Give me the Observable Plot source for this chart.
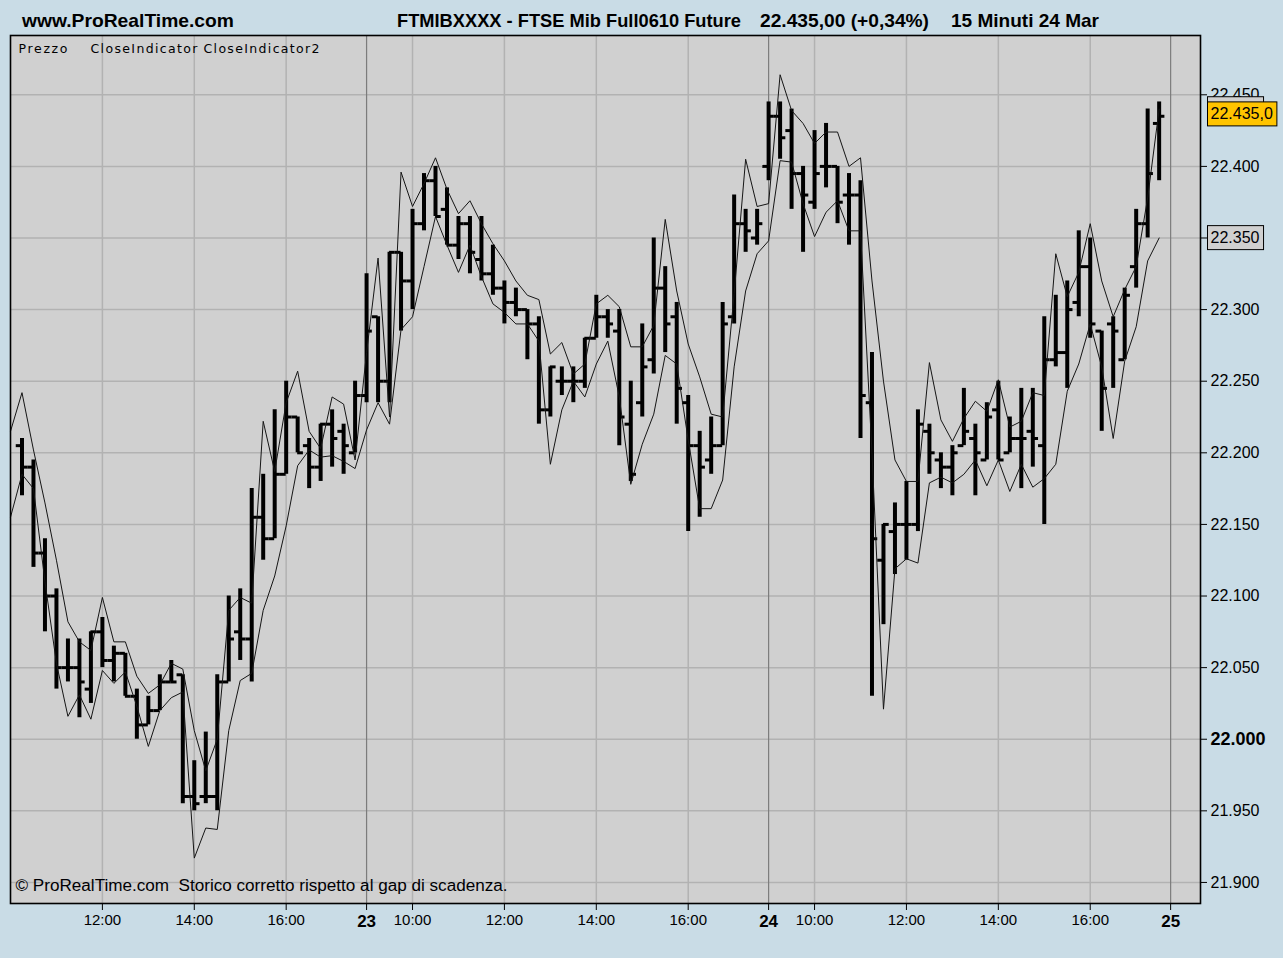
<!DOCTYPE html>
<html><head><meta charset="utf-8">
<script src="https://cdn.jsdelivr.net/npm/d3@7"></script>
<script src="https://cdn.jsdelivr.net/npm/@observablehq/plot@0.6"></script>
<style>
html,body{margin:0;padding:0;background:#c9dce6;}
body{width:1283px;height:958px;overflow:hidden;font-family:"Liberation Sans",Arial,sans-serif;}
#hdr{display:block;}
#chart svg{display:block;}
</style></head><body>
<svg id="hdr" width="1283" height="34" xmlns="http://www.w3.org/2000/svg" font-family="Liberation Sans, Arial, sans-serif" font-weight="bold" font-size="19">
  <text x="22" y="27" textLength="212" lengthAdjust="spacingAndGlyphs">www.ProRealTime.com</text>
  <text x="397" y="27" textLength="344" lengthAdjust="spacingAndGlyphs">FTMIBXXXX - FTSE Mib Full0610 Future</text>
  <text x="760" y="27" textLength="169" lengthAdjust="spacingAndGlyphs">22.435,00 (+0,34%)</text>
  <text x="951" y="27" textLength="148" lengthAdjust="spacingAndGlyphs">15 Minuti  24 Mar</text>
</svg>
<div id="chart"></div>
<script>
// ---- data: 15-minute bars, index counted from 22 Mar 09:00 (35 bars per session) ----
const firstBarIndex = 5; // 22 Mar 10:15
const openP  = [22205,22190,22130,22100,22050,22050,22035,22075,22055,22060,22030,22010,22020,22040,22045,21960,21960,21960,22040,22075,22070,22155,22140,22185,22225,22205,22190,22220,22215,22200,22240,22295,22250,22340,22320,22360,22390,22370,22345,22360,22335,22325,22315,22305,22300,22290,22230,22250,22250,22250,22280,22295,22285,22220,22235,22265,22315,22295,22235,22205,22195,22205,22295,22360,22350,22400,22435,22425,22395,22375,22400,22400,22380,22380,22235,22125,22145,22150,22150,22215,22195,22190,22205,22210,22195,22230,22200,22210,22215,22205,22265,22270,22305,22330,22285,22290,22265,22330,22360,22430];
const highP  = [22210,22195,22140,22105,22070,22070,22075,22085,22065,22060,22035,22030,22045,22055,22045,21985,22005,22045,22100,22105,22175,22185,22230,22250,22225,22210,22220,22230,22220,22250,22325,22295,22340,22340,22370,22395,22400,22385,22365,22365,22365,22345,22320,22315,22300,22295,22260,22260,22260,22280,22310,22300,22300,22250,22290,22350,22330,22305,22240,22215,22225,22305,22380,22370,22370,22445,22445,22440,22400,22425,22430,22400,22395,22390,22270,22150,22165,22180,22230,22220,22200,22205,22245,22220,22235,22250,22225,22245,22245,22295,22310,22320,22355,22350,22285,22295,22315,22370,22440,22445];
const lowP   = [22170,22120,22075,22035,22040,22015,22025,22050,22040,22030,22000,22010,22020,22040,21955,21950,21955,21950,22040,22055,22040,22125,22140,22185,22200,22175,22180,22190,22185,22200,22235,22235,22235,22285,22300,22355,22365,22345,22335,22325,22320,22310,22290,22295,22265,22220,22225,22240,22235,22245,22280,22280,22205,22180,22225,22255,22270,22220,22145,22155,22185,22205,22290,22340,22345,22390,22405,22370,22340,22370,22385,22360,22345,22210,22030,22080,22115,22125,22145,22185,22175,22170,22205,22170,22195,22195,22200,22175,22190,22150,22260,22245,22295,22280,22215,22245,22265,22315,22350,22390];
const closeP = [22190,22130,22100,22050,22050,22040,22075,22055,22060,22030,22010,22020,22040,22040,21960,21955,21960,22040,22070,22070,22155,22140,22185,22225,22200,22190,22220,22210,22205,22240,22285,22250,22340,22320,22360,22390,22365,22345,22360,22340,22325,22315,22305,22300,22290,22230,22260,22250,22250,22280,22295,22290,22225,22185,22260,22315,22290,22245,22205,22190,22205,22290,22360,22355,22360,22435,22420,22395,22380,22395,22400,22375,22380,22240,22140,22150,22150,22150,22220,22200,22190,22200,22215,22200,22225,22195,22210,22210,22210,22265,22270,22300,22330,22290,22245,22285,22310,22360,22395,22435];
// indicators start one bar before the first visible bar (22 Mar 10:00)
const closeIndicator  = [22215,22242,22202,22165,22125,22082,22068,22062,22099,22068,22068,22044,22032,22038,22053,22049,22006,21978,22000,22090,22099,22095,22222,22187,22235,22257,22215,22203,22239,22234,22195,22270,22336,22225,22396,22372,22388,22406,22384,22367,22376,22360,22346,22334,22320,22310,22307,22269,22277,22255,22262,22304,22310,22302,22274,22274,22289,22363,22313,22276,22253,22227,22225,22311,22405,22372,22374,22464,22439,22430,22416,22424,22424,22400,22406,22320,22250,22195,22180,22180,22263,22223,22208,22224,22236,22229,22251,22218,22222,22242,22240,22339,22309,22326,22360,22320,22295,22314,22330,22378,22440];
const closeIndicator2 = [22155,22185,22175,22110,22053,22016,22031,22014,22048,22039,22047,22023,21995,22020,22029,22033,21917,21938,21937,22006,22041,22046,22090,22114,22149,22191,22202,22197,22198,22194,22189,22216,22235,22220,22286,22295,22330,22365,22345,22326,22345,22323,22304,22298,22290,22290,22278,22192,22230,22250,22239,22262,22278,22239,22178,22206,22227,22268,22262,22209,22161,22161,22181,22260,22313,22339,22348,22404,22403,22374,22351,22368,22376,22355,22355,22200,22021,22119,22126,22123,22179,22183,22179,22185,22195,22177,22195,22173,22192,22176,22182,22192,22243,22262,22290,22260,22210,22264,22288,22334,22350];
const xTickIndex = [12,20,28,35,39,47,55,63,70,74,82,90,98,105];
const xTickLabel = ["12:00","14:00","16:00","23","10:00","12:00","14:00","16:00","24","10:00","12:00","14:00","16:00","25"];
const dayIndex = [35,70,105];
const dayLabels = ["23","24","25"];
const yTicks = [21900,21950,22000,22050,22100,22150,22200,22250,22300,22350,22400,22450];
const seriesNames = ["Prezzo","CloseIndicator","CloseIndicator2"];
const copyright = "\u00A9 ProRealTime.com  Storico corretto rispetto al gap di scadenza.";

// ---- tables ----
const bars = closeP.map((c,i)=>({g:firstBarIndex+i, open:openP[i], high:highP[i], low:lowP[i], close:c}));
const line1 = closeIndicator.map((v,i)=>({g:firstBarIndex-1+i, v}));
const line2 = closeIndicator2.map((v,i)=>({g:firstBarIndex-1+i, v}));
const loc = d3.formatLocale({decimal:",", thousands:".", grouping:[3], currency:["","\u20AC"]});
const fmtInt = loc.format(",d");
const fmt1 = loc.format(",.1f");
const gridIdx = xTickIndex.filter(d=>!dayIndex.includes(d));

// marker fills (all near-black) used only to find text groups after rendering
const F = {leg0:"#000001", leg1:"#000002", leg2:"#000003", copy:"#000004", boxQ:"#000005", boxP:"#000006", boxC:"#000007"};
const legFont = "DejaVu Sans, Verdana, sans-serif";

const chart = Plot.plot({
  width:1283, height:924,
  marginTop:1, marginBottom:55, marginLeft:10, marginRight:83,
  style:{background:"transparent", fontFamily:"Liberation Sans, Arial, sans-serif", fontSize:"15px", color:"black"},
  x:{domain:[4,107.6], ticks:xTickIndex, tickFormat:d=>xTickLabel[xTickIndex.indexOf(d)], tickSize:7, tickPadding:4, label:null},
  y:{domain:[21885.3,22491.4], axis:"right", ticks:yTicks, tickFormat:fmtInt, tickSize:6, tickPadding:4, label:null},
  marks:[
    Plot.frame({fill:"#d0d0d0", stroke:null}),
    Plot.ruleY(yTicks, {stroke:"#b2b2b2", strokeWidth:1.5}),
    Plot.ruleX(gridIdx, {stroke:"#b2b2b2", strokeWidth:1.5}),
    Plot.ruleX(dayIndex, {stroke:"#7c7c7c", strokeWidth:1.2}),
    Plot.ruleX(bars, {x:"g", y1:"low", y2:"high", stroke:"black", strokeWidth:4}),
    Plot.ruleY(bars, {y:"open", x1:d=>d.g-0.5, x2:"g", stroke:"black", strokeWidth:3}),
    Plot.ruleY(bars, {y:"close", x1:"g", x2:d=>d.g+0.5, stroke:"black", strokeWidth:3}),
    Plot.line(line1, {x:"g", y:"v", stroke:"#151515", strokeWidth:1}),
    Plot.line(line2, {x:"g", y:"v", stroke:"#151515", strokeWidth:1}),
    Plot.frame({stroke:"black", strokeWidth:1.6}),
    Plot.text([seriesNames[0]], {frameAnchor:"top-left", dx:8, dy:9, textAnchor:"start", fontSize:12.5, fontFamily:legFont, fill:F.leg0}),
    Plot.text([seriesNames[1]], {frameAnchor:"top-left", dx:80, dy:9, textAnchor:"start", fontSize:12.5, fontFamily:legFont, fill:F.leg1}),
    Plot.text([seriesNames[2]], {frameAnchor:"top-left", dx:193, dy:9, textAnchor:"start", fontSize:12.5, fontFamily:legFont, fill:F.leg2}),
    Plot.text([copyright], {frameAnchor:"bottom-left", dx:5, dy:-13, textAnchor:"start", fontSize:16, fill:F.copy}),
    Plot.text([closeIndicator[closeIndicator.length-1]], {y:d=>d, text:d=>fmtInt(d), frameAnchor:"right", textAnchor:"start", dx:10, dy:0, fontSize:16, fill:F.boxQ}),
    Plot.text([closeIndicator2[closeIndicator2.length-1]], {y:d=>d, text:d=>fmtInt(d), frameAnchor:"right", textAnchor:"start", dx:10, fontSize:16, fill:F.boxP}),
    Plot.text([closeP[closeP.length-1]], {y:d=>d, text:d=>fmt1(d), frameAnchor:"right", textAnchor:"start", dx:10, dy:-2, fontSize:16, fill:F.boxC})
  ]
});
document.getElementById("chart").appendChild(chart);
const svg = chart.tagName.toLowerCase()==="svg" ? chart : chart.querySelector("svg");

function textsOf(color){
  const out = [];
  svg.querySelectorAll(`[fill="${color}"]`).forEach(el=>{
    if (el.tagName.toLowerCase()==="text") out.push(el);
    else el.querySelectorAll("text").forEach(t=>out.push(t));
  });
  return out;
}
const markerTexts = new Set(Object.values(F).flatMap(c=>textsOf(c)));

// axis label styling
svg.querySelectorAll("text").forEach(t=>{
  if (markerTexts.has(t)) return;
  const s = t.textContent;
  if (dayLabels.includes(s)) { t.style.fontWeight="bold"; t.style.fontSize="17px"; }
  else if (/^\d{2}\.\d{3}$/.test(s)) {
    t.style.fontSize="16px";
    if (s==="22.000") { t.style.fontWeight="bold"; t.style.fontSize="18px"; }
  }
});
function fit(color, len, adj){
  textsOf(color).forEach(t=>{ t.setAttribute("textLength", len); t.setAttribute("lengthAdjust", adj); });
}
fit(F.leg0, 49, "spacing");
fit(F.leg1, 107, "spacing");
fit(F.leg2, 116, "spacing");
fit(F.copy, 492, "spacingAndGlyphs");

// value boxes on the right axis (the CloseIndicator box lies under the price box)
[[F.boxQ,"#d0d0d0",true],[F.boxP,"#d0d0d0",false],[F.boxC,"#ffc400",false]].forEach(([color,fill,hidden])=>{
  textsOf(color).forEach(t=>{
    const g = t.parentNode;
    const b = t.getBBox();
    const r = document.createElementNS("http://www.w3.org/2000/svg","rect");
    r.setAttribute("x", b.x-3); r.setAttribute("y", b.y+b.height/2-12);
    r.setAttribute("width", b.width+7); r.setAttribute("height", 24);
    r.setAttribute("fill", fill); r.setAttribute("stroke", "black"); r.setAttribute("stroke-width", 1);
    const tr = t.getAttribute("transform");
    if (tr) r.setAttribute("transform", tr);
    svg.appendChild(g);
    g.insertBefore(r, t);
    if (hidden) t.remove();
  });
});
</script>
</body></html>
